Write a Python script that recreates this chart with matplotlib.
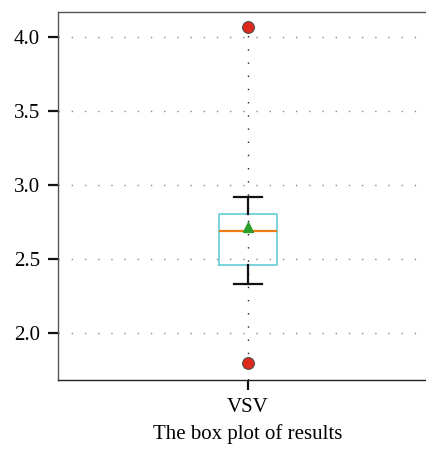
import matplotlib.pyplot as plt

# summary statistics of the VSV results
labels = ["VSV"]
q1 = [2.46]
median = [2.69]
q3 = [2.805]
mean = [2.715]
whisker_low = [2.33]
whisker_high = [2.92]
outliers = [[4.068, 1.797]]

stats = []
for i in range(len(labels)):
    stats.append({
        "label": labels[i],
        "q1": q1[i], "med": median[i], "q3": q3[i], "mean": mean[i],
        "whislo": whisker_low[i], "whishi": whisker_high[i],
        "fliers": outliers[i],
    })

plt.rcParams['font.family'] = ['Liberation Serif', 'DejaVu Serif']

fig = plt.figure(figsize=(4.27, 4.5), dpi=100)
ax = fig.add_axes([0.1358, 0.1556, 0.890, 0.8178])

ax.bxp(stats, showmeans=True, widths=0.15,
       boxprops=dict(color='#62cdd6', linewidth=1.2),
       medianprops=dict(color='#ef7d10', linewidth=1.6),
       whiskerprops=dict(color='#111111', linewidth=1.6),
       capprops=dict(color='#111111', linewidth=1.6),
       meanprops=dict(marker='^', markerfacecolor='#2ca02c', markeredgecolor='#2ca02c', markersize=7),
       flierprops=dict(marker='o', markerfacecolor='#dd2a1c', markeredgecolor='#444444',
                       markeredgewidth=0.7, markersize=8.5))

ax.set_xlim(0.5, 1.5)
ax.set_ylim(1.682, 4.169)
ax.set_yticks([2.0, 2.5, 3.0, 3.5, 4.0])
ax.set_yticklabels(["2.0", "2.5", "3.0", "3.5", "4.0"])

ax.yaxis.grid(True, linestyle=(0, (1, 8.5)), color='#888888', linewidth=1.0)
ax.xaxis.grid(True, linestyle=(0, (1, 8.5)), color='#222222', linewidth=1.0)
ax.set_axisbelow(True)

for s in ax.spines.values():
    s.set_color('#555555')
    s.set_linewidth(1.0)
ax.spines['bottom'].set_color('#222222')

ax.tick_params(axis='both', length=7, width=1.6, color='#111111', labelsize=15, pad=6)
ax.set_xlabel("The box plot of results", fontsize=15, labelpad=5)

fig.savefig("out.png", dpi=100)
